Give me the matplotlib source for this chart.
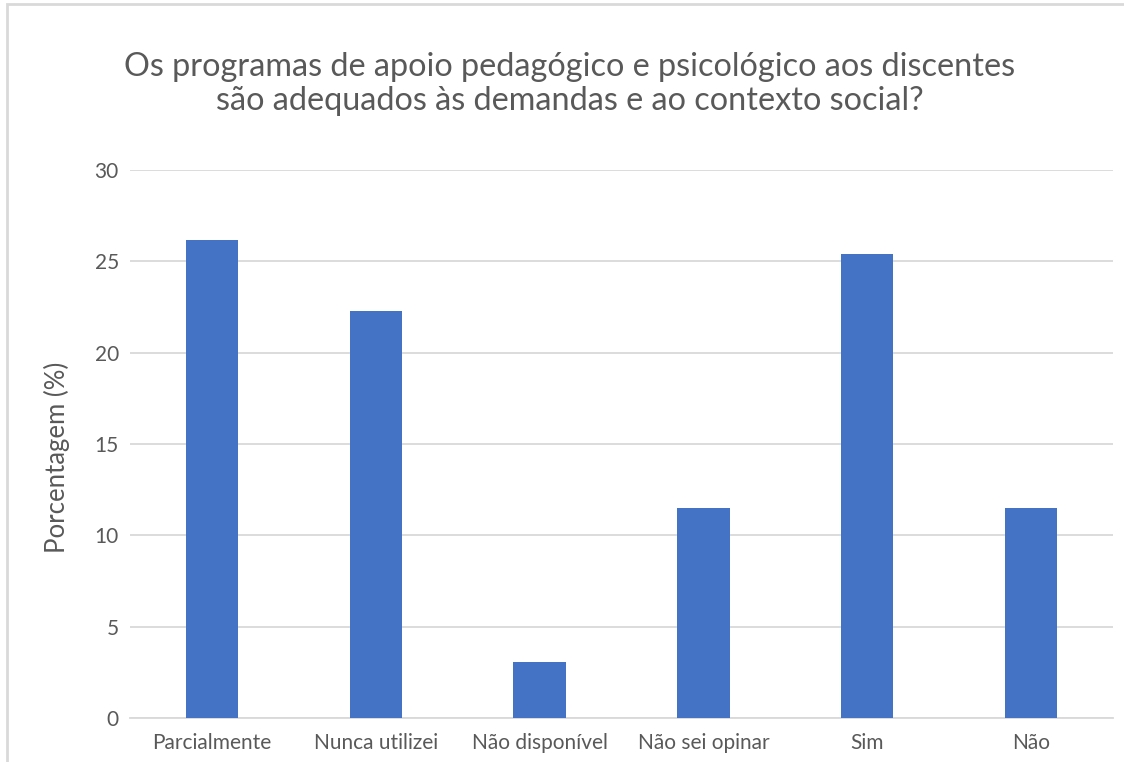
import matplotlib.pyplot as plt
from matplotlib.patches import Rectangle
import numpy as np

categories = ["Parcialmente", "Nunca utilizei", "Não disponível", "Não sei opinar", "Sim", "Não"]
values = [26.15, 22.3, 3.08, 11.5, 25.4, 11.5]
yticks = [0, 5, 10, 15, 20, 25, 30]

title = ("Os programas de apoio pedagógico e psicológico aos discentes\n"
         "são adequados às demandas e ao contexto social?")

plt.rcParams["font.family"] = ["Lato", "DejaVu Sans"]
text_color = "#595959"
grid_color = "#D9D9D9"

W, H = 1124, 762
fig = plt.figure(figsize=(W/100, H/100), dpi=100)
ax = fig.add_axes([130/W, 1-718/H, (1113-130)/W, (718-170)/H])

x = np.arange(len(categories))
ax.bar(x, values, width=0.32, color="#4472C4", zorder=3)
ax.set_xlim(-0.5, len(categories)-0.5)
ax.set_ylim(0, 30)
ax.set_yticks(yticks)
ax.set_xticks(x, categories)
ax.yaxis.grid(True, color=grid_color, linewidth=1.3, zorder=0)
for s in ["top", "right", "left"]:
    ax.spines[s].set_visible(False)
ax.spines["bottom"].set_color(grid_color)
ax.spines["bottom"].set_linewidth(1.3)
ax.tick_params(axis="both", length=0, labelsize=15, colors=text_color)
ax.tick_params(axis="y", pad=8)
ax.tick_params(axis="x", pad=11)
ax.set_ylabel("Porcentagem (%)", fontsize=18.5, color=text_color)
ax.yaxis.set_label_coords(-60/983, 0.475)

fig.text(570/W, 1-84/H, title, ha="center", va="center", fontsize=23.3,
         color=text_color, linespacing=1.2)

# outer chart frame
fig.patches.append(Rectangle((7/W, -0.1), 1.2, 1-4/H+0.1, transform=fig.transFigure,
                             fill=False, edgecolor=grid_color, linewidth=2))

fig.savefig("out.png", dpi=100)
